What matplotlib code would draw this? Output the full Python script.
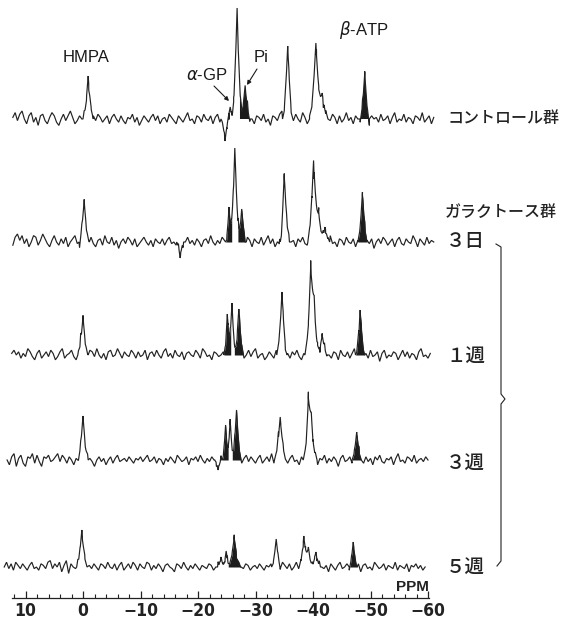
import numpy as np
import matplotlib
matplotlib.use('Agg')
import matplotlib.pyplot as plt

# --- 31P-NMR spectra, values (px above each baseline) ---
STEP = 0.4        # ppm between noise points
NOISE_UNIT = 1.6  # px per noise step

# control group
CTRL_START = 12.2
CTRL_NOISE = [1, 4, -1, 3, 5, 0, -3, 2, 4, -2, 1, -4, 2, 3, -1, -3, 1, 4, 2, -2,
              -4, 0, 3, -1, 2, 5, 1, -3, -1, 2, 0, 3, -2, -4, 1, 2, -1, 3, 1, -2,
              0, 2, -3, 1, 3, 0, -2, 2, -1, -3, 1, 0, 3, -2, 1, -4, -1, 2, 0, -2,
              1, 3, -1, 2, -3, 0, 1, -2, 3, 1, -1, -3, 2, 0, -2, 1, 4, -1, 0, -3,
              2, 1, -2, 3, 0, -1, 2, -3, 1, 3, -2, 0, 2, -1, -4, 1, 3, 0, -2, 2,
              -1, 1, 4, -2, 0, -3, 2, 1, -1, 3, -2, 0, -4, 2, 1, -1, 3, 5, -2, 0,
              2, -3, -1, 3, 0, -2, 4, 1, -3, 2, -1, 0, 3, -2, 1, -4, 2, 0, -1, 3,
              1, -3, 2, -2, 0, 4, -1, 1, -3, 2, 0, -2, 3, 1, -1, -4, 2, 0, 1, -2,
              3, -1, 0, 2, -3, 1, 4, -2, 0, -1, 3, -2, 1, 0, -3, 2, 1, -1, 4, -2,
              0, 2, -3, 1]
CTRL_PEAKS = [-0.9, -24.7, -25.6, -26.8, -28.2, -35.6, -40.5, -41.6, -49.0]
CTRL_HEIGHT = [43, -22, 12, 111, 32, 73, 76, 26, 46]
CTRL_WIDTH = [0.9, 0.7, 0.6, 0.9, 0.9, 0.9, 1.1, 1.0, 0.8]
CTRL_FILLED = [-28.2, -49.0]

# galactose group, 3 days
D3_START = 12.2
D3_NOISE = [-2, 3, 5, 1, 4, -1, 2, -3, 0, 4, 3, -2, 1, 5, 2, -1, -3, 1, 4, 0,
            -2, 2, -1, 3, -3, 0, 2, 4, -1, -4, 2, 1, -2, 0, 3, -1, -3, 1, 2, -2,
            4, 0, -1, 3, -2, 1, -4, 0, 2, -1, 3, 1, -2, 2, -3, -1, 1, 3, 0, -2,
            1, -3, 2, 0, -1, 2, -2, 1, 3, -1, 0, -2, 2, 1, -3, 0, 3, -1, 1, -2,
            2, 0, -3, 1, 2, -1, 4, 0, -2, 1, -1, 3, 1, -2, 0, 2, -3, 1, 4, -1,
            0, -2, 3, 1, -3, 2, 0, -1, 3, -2, 1, 4, -1, 2, -3, 0, 3, 1, -2, 2,
            4, 0, 1, -3, 2, 0, 3, -1, -2, 2, 1, -4, 0, 3, -1, 2, -2, 1, 4, -1,
            0, -3, 2, 1, -2, 3, 0, -1, 2, -3, 1, 0, -2, 3, 1, -1, 2, -4, 0, 2,
            -1, 3, 1, -2, 0, 2, -3, 1, 3, -1, -2, 2, 0, -1, 4, 1, -3, 2, 0, -2,
            3, -1, 1, 0]
D3_PEAKS = [-0.2, -16.9, -25.4, -26.4, -27.6, -34.5, -35.0, -40.1, -41.0, -42.1, -48.6]
D3_HEIGHT = [41, -16, 35, 94, 33, -11, 69, 81, 28, 15, 50]
D3_WIDTH = [0.9, 0.6, 0.6, 0.9, 0.8, 0.6, 0.9, 1.0, 1.0, 0.8, 0.8]
D3_FILLED = [-25.4, -27.6, -48.6]

# 1 week
W1_START = 12.4
W1_NOISE = [1, 3, 0, 2, -2, 1, -1, 4, 2, -1, -3, 1, 3, -2, 0, 2, -1, 3, 1, -3,
            -1, 2, 4, -2, 0, 1, 3, -1, -3, 2, 5, 1, -2, 0, 3, 2, -1, 4, 0, -2,
            1, -3, 2, 3, -1, 0, 4, 1, -2, 2, 0, -1, 3, 1, -2, 2, -1, 0, 3, -3,
            1, 2, -1, 3, 0, -2, 2, 4, -1, 1, -2, 3, 0, -1, 2, -3, 1, 2, 0, -1,
            3, 1, -2, 4, 2, -1, 0, -3, 2, 1, -1, 0, 2, -2, 1, 3, -1, 0, -3, 2,
            1, -2, 0, 3, -1, 2, 4, -2, 0, 1, -3, -1, 2, 0, -2, 3, 1, -1, 2, -3,
            1, -2, 2, 0, 3, -1, -3, 1, 2, -2, 4, 0, -1, 2, -3, 1, 3, -1, 0, -2,
            2, 1, -3, 3, 0, -1, 2, -2, 1, 4, -1, -3, 2, 0, 1, -2, 3, -1, 0, 2,
            -4, 1, 3, -2, 0, -1, 2, 1, -3, 0, 3, -1, 2, -2, 1, 0, -3, 2, 4, -1,
            0, -2, 1]
W1_PEAKS = [0.0, -25.1, -25.9, -27.1, -34.6, -39.6, -40.2, -41.6, -48.2]
W1_HEIGHT = [38, 41, 52, 46, 63, 79, 43, 20, 45]
W1_WIDTH = [0.9, 0.6, 0.7, 0.8, 0.9, 1.0, 1.0, 0.9, 0.8]
W1_FILLED = [-25.1, -27.1, -48.2]

# 3 weeks
W3_START = 13.2
W3_NOISE = [0, -3, 2, 4, -4, 1, 3, -2, -4, 2, 1, 4, -2, 3, -1, -4, 2, 1, 3, -1,
            0, 2, 4, -1, 3, 1, -2, 2, 0, -3, 1, -1, 2, 0, -2, 3, 1, -1, -4, 0,
            2, -1, 1, -3, 0, 2, -2, 1, 3, -1, 0, 1, -1, 2, 0, -2, 1, 0, 2, -1,
            1, 3, -1, 0, 2, -2, 1, 0, -3, 1, -1, 2, 0, -2, 3, 1, -1, 0, 2, -3,
            1, 0, 2, -1, 3, 0, -2, 1, -1, 2, 0, -2, 1, 3, -1, 0, 2, -3, 1, 2,
            -1, 0, -2, 1, 3, -1, 2, 0, -2, 1, 3, -2, 0, 2, -1, 4, -2, 1, 3, -1,
            2, 0, -2, 1, 3, -1, 0, -3, 2, 1, -2, 4, 0, -1, 2, -3, 1, 0, 3, -2,
            1, -1, 2, 0, -4, 1, 3, -1, 0, 2, -2, 1, -1, 3, 0, -2, 2, -1, 1, -3,
            2, 0, 3, -1, -2, 1, 0, 2, -3, 1, 4, -1, 0, -2, 2, 1, -1, 3, -2, 0,
            1, -1, 2, 0]
W3_PEAKS = [0.0, -23.5, -24.8, -25.6, -26.7, -34.3, -39.2, -39.7, -47.6]
W3_HEIGHT = [44, -10, 35, 41, 50, 43, 51, 35, 28]
W3_WIDTH = [0.9, 0.6, 0.6, 0.6, 0.8, 1.0, 0.9, 1.0, 0.8]
W3_FILLED = [-24.8, -26.7, -47.6]

# 5 weeks
W5_START = 13.7
W5_NOISE = [0, 3, -1, 2, -2, 3, 1, -1, 2, 0, -2, 1, 3, -1, 0, -2, 2, 1, -1, 3,
            4, -1, 2, 0, 3, -3, 1, 4, -4, 2, 0, -1, 3, 1, -2, 2, 0, 1, -1, 2,
            0, -2, 2, 1, -1, 3, 0, -1, 2, -2, 1, 3, -2, 0, 2, -1, 3, 1, -2, 2,
            0, -1, 3, 2, -2, 1, -1, 2, 0, -3, 1, 2, 0, -1, -3, 2, 1, -1, 3, 0,
            -2, 1, -1, 2, 0, -2, 1, 0, -1, 2, 1, -2, 0, 3, -1, 1, -2, 2, 0, -1,
            2, -3, 1, 0, -1, 2, 1, -2, 0, 1, -1, 2, 0, -2, 1, 0, 2, -1, 0, 1,
            -2, 3, 1, -1, 2, -2, 0, 3, -1, 1, -3, 2, 0, -1, 2, 1, -2, 3, 0, -1,
            1, -3, 2, 0, -2, 1, 3, -1, 0, 2, -2, 1, -1, 0, 2, -3, 1, 2, -1, 0,
            -2, 3, 1, -1, 0, 2, -2, 1, 0, -1, 3, -2, 1, 0, -1, 2, -3, 1, 0, 2,
            -1, 1, -2, 0]
W5_PEAKS = [0.2, -24.0, -24.9, -26.3, -33.6, -38.4, -39.2, -40.5, -47.0]
W5_HEIGHT = [37, 10, 16, 29, 28, 31, 20, 15, 25]
W5_WIDTH = [0.9, 0.6, 0.6, 1.1, 0.8, 0.8, 0.8, 0.8, 0.7]
W5_FILLED = [-26.3, -47.0]

TICKS = [10, 0, -10, -20, -30, -40, -50, -60]
LABELS_RIGHT = ['コントロール群', '３日', '１週', '３週', '５週']

PX_W, PX_H = 564, 621
BASELINES = [502, 379, 266, 161, 54]  # data y of each trace (px from bottom)

traces = [
    (CTRL_START, CTRL_NOISE, CTRL_PEAKS, CTRL_HEIGHT, CTRL_WIDTH, CTRL_FILLED),
    (D3_START, D3_NOISE, D3_PEAKS, D3_HEIGHT, D3_WIDTH, D3_FILLED),
    (W1_START, W1_NOISE, W1_PEAKS, W1_HEIGHT, W1_WIDTH, W1_FILLED),
    (W3_START, W3_NOISE, W3_PEAKS, W3_HEIGHT, W3_WIDTH, W3_FILLED),
    (W5_START, W5_NOISE, W5_PEAKS, W5_HEIGHT, W5_WIDTH, W5_FILLED),
]

# points added around each peak, as a fraction of its base half-width
OFFS = np.array([-1.0, -0.6, -0.3, -0.1, 0.0, 0.1, 0.3, 0.6, 1.0])


def spectrum(start, noise, peaks, heights, widths):
    xn = start - STEP * np.arange(len(noise))
    xp = np.concatenate([p + OFFS * w for p, w in zip(peaks, widths)])
    x = np.concatenate([xn, xp])
    n = np.concatenate([np.array(noise, float) * NOISE_UNIT, np.zeros(len(xp))])
    order = np.argsort(-x)
    x, n = x[order], n[order]
    y = n.copy()
    for p, h, w in zip(peaks, heights, widths):
        y += h * np.clip(1 - np.abs(x - p) / w, 0, None) ** 1.7
    return x, y


fig = plt.figure(figsize=(PX_W / 100, PX_H / 100), dpi=100)
fig.patch.set_facecolor('white')

ax = fig.add_axes([0, 0, 440 / PX_W, 1])
ax.set_xlim(83 / 5.75, -(440 - 83) / 5.75)
ax.set_ylim(0, PX_H)
ax.patch.set_alpha(0)

for base, (start, noise, peaks, heights, widths, filled) in zip(BASELINES, traces):
    x, y = spectrum(start, noise, peaks, heights, widths)
    ax.plot(x, base + y, color='#222222', lw=0.85, solid_joinstyle='miter')
    for f in filled:
        w = widths[peaks.index(f)]
        m = (np.abs(x - f) <= w) & (y > 0)
        ax.fill_between(x, base, base + y, where=m, interpolate=True,
                        color='#1c1c1c', lw=0)

# ppm axis
for s in ['top', 'left', 'right']:
    ax.spines[s].set_visible(False)
ax.spines['bottom'].set_position(('data', 23))
ax.spines['bottom'].set_bounds(12.4, -60.2)
ax.spines['bottom'].set_color('#222222')
ax.spines['bottom'].set_linewidth(0.9)
ax.set_yticks([])
ax.set_xticks(TICKS)
ax.set_xticklabels([f'{t}'.replace('-', '\u2212') for t in TICKS],
                   family='DejaVu Sans', fontstretch='condensed',
                   fontsize=12.5, fontweight='bold', color='#222222')
ax.set_xticks([t for t in range(12, -60, -2) if t % 10 != 0], minor=True)
ax.tick_params(axis='x', which='major', direction='in', length=5, width=0.9,
               pad=3, colors='#222222')
ax.tick_params(axis='x', which='minor', direction='in', length=3, width=0.8,
               colors='#222222')
ax.text(-60.2, 27, 'PPM', ha='right', va='bottom', fontsize=11,
        family='Liberation Sans', fontweight='bold', color='#222222')

# overlay in pixel coords for labels and the brace
ov = fig.add_axes([0, 0, 1, 1])
ov.set_xlim(0, PX_W)
ov.set_ylim(PX_H, 0)
ov.axis('off')
ov.patch.set_alpha(0)

jp = ['Noto Sans CJK JP', 'DejaVu Sans']
ov.text(448, 118, LABELS_RIGHT[0], fontsize=11.5, family=jp, fontweight='medium',
        va='center', color='#222222')
ov.text(445, 212, 'ガラクトース群', fontsize=11.5, family=jp, fontweight='medium',
        va='center', color='#222222')
for lab, yy in zip(LABELS_RIGHT[1:], [241, 356, 463, 567]):
    ov.text(446, yy, lab, fontsize=14, family=jp, fontweight='medium',
            va='center', color='#222222')

ov.plot([496, 501, 501, 505, 501, 501, 497], [244, 247, 394, 399, 404, 561, 566],
        color='#222222', lw=0.8)

lat = 'Liberation Sans'
ov.text(86, 58, 'HMPA', fontsize=12, family=lat, ha='center', va='center', color='#1a1a1a')
ov.text(207, 75, r'$\alpha$-GP', fontsize=12, family=lat, ha='center', va='center', color='#1a1a1a')
ov.text(261, 58, 'Pi', fontsize=12, family=lat, ha='center', va='center', color='#1a1a1a')
ov.text(364, 30, r'$\beta$-ATP', fontsize=12, family=lat, ha='center', va='center', color='#1a1a1a')
arrow = dict(arrowstyle='-|>', color='#1a1a1a', lw=0.8, mutation_scale=6, shrinkA=0, shrinkB=0)
ov.annotate('', xy=(229, 101), xytext=(214, 86), arrowprops=arrow)
ov.annotate('', xy=(247, 85), xytext=(257, 69), arrowprops=arrow)

fig.savefig('out.png', dpi=100, facecolor='white')
